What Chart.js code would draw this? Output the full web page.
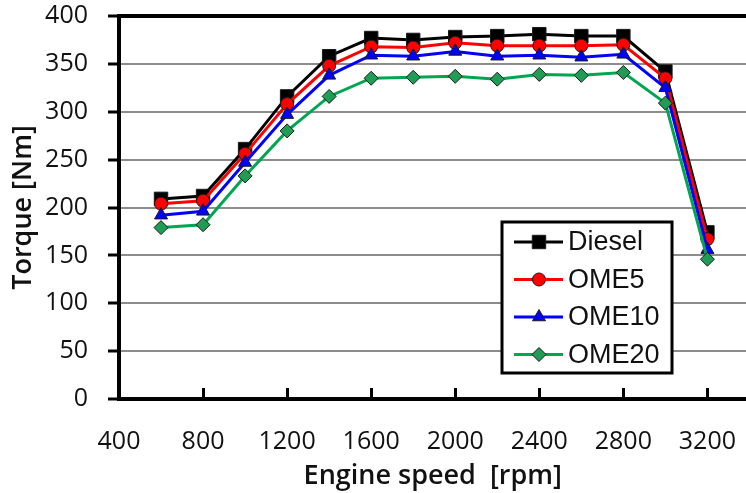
<!DOCTYPE html>
<html>
<head>
<meta charset="utf-8">
<script src="https://cdn.jsdelivr.net/npm/chart.js@4/dist/chart.umd.min.js"></script>
<style>
html,body{margin:0;padding:0;background:#fff;overflow:hidden;}
#wrap{width:746px;height:493px;position:relative;overflow:hidden;}
#c{position:absolute;left:0;top:0;}
</style>
</head>
<body>
<div id="wrap"><canvas id="c" width="757" height="493"></canvas></div>
<script>
// ---- data ----
const speeds = [600, 800, 1000, 1200, 1400, 1600, 1800, 2000, 2200, 2400, 2600, 2800, 3000, 3200];
const diesel = [209, 212, 261, 316, 358, 377, 375, 378, 379, 381, 379, 379, 342, 174];
const ome5   = [204, 207, 256, 308, 348, 368, 367, 372, 369, 369, 369, 370, 335, 167];
const ome10  = [192, 196, 247, 297, 338, 359, 358, 363, 358, 359, 357, 360, 325, 156];
const ome20  = [179, 182, 233, 280, 316, 335, 336, 337, 334, 339, 338, 341, 309, 146];
const seriesNames = ['Diesel', 'OME5', 'OME10', 'OME20'];
const xTickMin = 400, xTickStep = 400, xAxisMax = 3386;
const yTickMin = 0, yTickMax = 400, yTickStep = 50;

function pts(vals){ return speeds.map((s,i)=>({x:s, y:vals[i]})); }

const styles = [
  {line:'#000000', fill:'#000000', shape:'rect',     r:9.5},
  {line:'#ff0000', fill:'#ff0000', shape:'circle',   r:6.5},
  {line:'#0000ff', fill:'#0000ff', shape:'triangle', r:7.5},
  {line:'#00a650', fill:'#1e9e55', shape:'rectRot',  r:7}
];
const values = [diesel, ome5, ome10, ome20];

const datasets = values.map((v,i)=>({
  label: seriesNames[i],
  data: pts(v),
  borderColor: styles[i].line,
  borderWidth: 3,
  backgroundColor: styles[i].fill,
  pointBackgroundColor: styles[i].fill,
  pointBorderColor: '#1a1a1a',
  pointBorderWidth: 1,
  pointStyle: styles[i].shape,
  pointRadius: styles[i].r,
  pointHoverRadius: styles[i].r,
  tension: 0,
  order: 3 - i,
  clip: false
}));

function drawMarker(ctx, shape, r, x, y, fill){
  ctx.save();
  ctx.fillStyle = fill; ctx.strokeStyle = '#1a1a1a'; ctx.lineWidth = 1;
  ctx.beginPath();
  if (shape === 'rect') { const s = Math.SQRT1_2*r; ctx.rect(x-s,y-s,2*s,2*s); }
  else if (shape === 'circle') { ctx.arc(x,y,r,0,Math.PI*2); }
  else if (shape === 'triangle') {
    ctx.moveTo(x, y - r);
    ctx.lineTo(x + r*Math.cos(Math.PI/6), y + r*0.5);
    ctx.lineTo(x - r*Math.cos(Math.PI/6), y + r*0.5);
    ctx.closePath();
  } else if (shape === 'rectRot') {
    ctx.moveTo(x, y-r); ctx.lineTo(x+r, y); ctx.lineTo(x, y+r); ctx.lineTo(x-r, y); ctx.closePath();
  }
  ctx.fill(); ctx.stroke();
  ctx.restore();
}

const framePlugin = {
  id: 'frameTicks',
  beforeDatasetsDraw(chart){
    const ctx = chart.ctx, xs = chart.scales.x, area = chart.chartArea;
    ctx.save();
    ctx.strokeStyle = '#000'; ctx.lineWidth = 3;
    xs.ticks.forEach(t=>{
      if (t.value === xTickMin) return;
      const px = Math.round(xs.getPixelForValue(t.value)) + 0.5;
      ctx.beginPath(); ctx.moveTo(px, area.bottom); ctx.lineTo(px, area.bottom - 11); ctx.stroke();
    });
    ctx.restore();
  }
};

const legendPlugin = {
  id: 'boxLegend',
  afterDraw(chart, args, opts){
    const ctx = chart.ctx;
    const bx = opts.x, by = opts.y, bw = opts.w, bh = opts.h;
    ctx.save();
    ctx.fillStyle = '#fff';
    ctx.fillRect(bx, by, bw, bh);
    ctx.strokeStyle = '#000'; ctx.lineWidth = 3;
    ctx.strokeRect(bx, by, bw, bh);
    chart.data.datasets.forEach((ds, i)=>{
      const cy = by + opts.rowStart + i*opts.rowGap;
      ctx.strokeStyle = ds.borderColor; ctx.lineWidth = 3;
      ctx.beginPath(); ctx.moveTo(bx+12, cy); ctx.lineTo(bx+61, cy); ctx.stroke();
      drawMarker(ctx, ds.pointStyle, ds.pointRadius, bx+37, cy, ds.pointBackgroundColor);
      ctx.fillStyle = '#111';
      ctx.font = '27px "Liberation Sans", Arial, sans-serif';
      ctx.textAlign = 'left'; ctx.textBaseline = 'middle';
      ctx.fillText(ds.label, bx+66, cy+1);
    });
    ctx.restore();
  }
};

const tickFont = {family: '"Open Sans", sans-serif', size: 25};
const titleFont = {family: '"Open Sans", sans-serif', size: 27, weight: '600'};

new Chart(document.getElementById('c'), {
  type: 'line',
  data: {datasets},
  options: {
    responsive: false,
    animation: false,
    events: [],
    layout: {padding: {top: 16, right: 0, left: 0, bottom: 0}},
    plugins: {
      legend: {display: false},
      tooltip: {enabled: false},
      boxLegend: {x: 502, y: 222, w: 170, h: 151, rowStart: 20, rowGap: 37.5}
    },
    scales: {
      x: {
        type: 'linear',
        min: xTickMin,
        max: xAxisMax,
        ticks: {stepSize: xTickStep, includeBounds: false, color: '#111', font: tickFont, padding: 28, maxRotation: 0,
                autoSkip: false, callback: (v)=> String(v)},
        grid: {display: false, drawTicks: false},
        border: {display: true, color: '#000', width: 4},
        title: {display: true, text: 'Engine speed  [rpm]', color: '#111', font: titleFont, padding: {top: 0, bottom: 0}},
        afterFit(s){ s.height = 94; s.paddingLeft = 0; s.paddingRight = 0; }
      },
      y: {
        min: yTickMin,
        max: yTickMax,
        ticks: {stepSize: yTickStep, color: '#111', font: tickFont, padding: 20, callback: (v)=> String(v)},
        grid: {
          drawTicks: true,
          tickLength: 11,
          tickColor: '#000',
          tickWidth: 3,
          color: (c)=> c.tick && c.tick.value === yTickMax ? '#000' : (c.tick && c.tick.value === yTickMin ? 'rgba(0,0,0,0)' : '#8c8c8c'),
          lineWidth: (c)=> c.tick && c.tick.value === yTickMax ? 4 : 2
        },
        border: {display: true, color: '#000', width: 4},
        title: {display: true, text: 'Torque [Nm]', color: '#111', font: titleFont, padding: {top: 7, bottom: 0}},
        afterFit(s){ s.width = 119; s.paddingTop = 0; s.paddingBottom = 0; }
      }
    }
  },
  plugins: [framePlugin, legendPlugin]
});
</script>
</body>
</html>
